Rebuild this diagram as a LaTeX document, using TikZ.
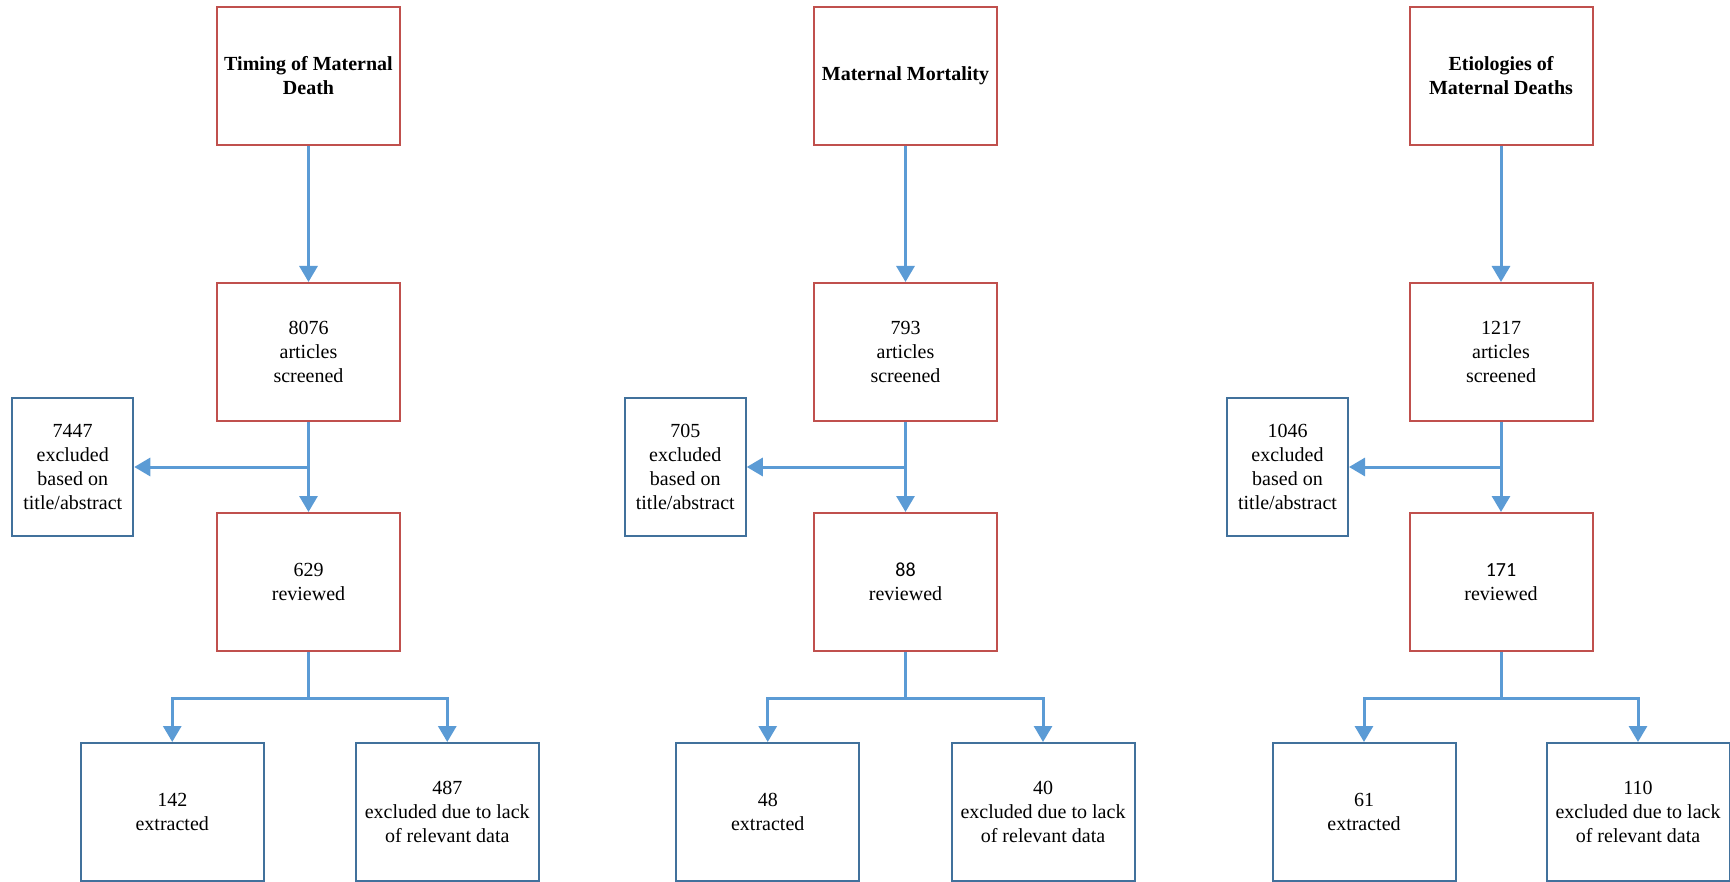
\documentclass[tikz,border=0pt]{standalone}
\usepackage{fontspec}
\setmainfont{Liberation Serif}
\newfontfamily\calibrifont{Carlito}
\usetikzlibrary{arrows.meta}
\definecolor{boxred}{HTML}{C0504D}
\definecolor{boxblue}{HTML}{41719C}
\definecolor{arrowblue}{HTML}{5B9BD5}
\tikzset{
  basebox/.style={draw, line width=2pt, minimum width=183pt, minimum height=138pt, inner sep=0pt, align=center, font=\fontsize{20}{24}\selectfont, text=black},
  redbox/.style={basebox, draw=boxred},
  bluebox/.style={basebox, draw=boxblue},
  exclbox/.style={basebox, draw=boxblue, minimum width=121pt},
  arr/.style={draw=arrowblue, line width=3pt, -{Triangle[width=18pt,length=16pt]}},
  con/.style={draw=arrowblue, line width=3pt},
}
\begin{document}
\begin{tikzpicture}[x=1pt,y=-1pt]
\useasboundingbox (0,0) rectangle (1730,882);
% Column 1
\node[redbox] (t1) at (308.5,76) {\bfseries Timing of Maternal\\\bfseries Death};
\node[redbox] (s1) at (308.5,352) {8076\\articles\\screened};
\node[exclbox] (e1) at (72.75,467) {7447\\excluded\\based on\\title/abstract};
\node[redbox] (r1) at (308.5,582) {629\\reviewed};
\node[bluebox] (x1) at (172.25,812) {142\\extracted};
\node[bluebox] (d1) at (447.25,812) {487\\excluded due to lack\\of relevant data};
% Column 2
\node[redbox] (t2) at (905.5,76) {\bfseries Maternal Mortality};
\node[redbox] (s2) at (905.5,352) {793\\articles\\screened};
\node[exclbox] (e2) at (685.25,467) {705\\excluded\\based on\\title/abstract};
\node[redbox] (r2) at (905.5,582) {{\calibrifont 88}\\reviewed};
\node[bluebox] (x2) at (767.75,812) {48\\extracted};
\node[bluebox] (d2) at (1043,812) {40\\excluded due to lack\\of relevant data};
% Column 3
\node[redbox] (t3) at (1501,76) {\bfseries Etiologies of\\\bfseries Maternal Deaths};
\node[redbox] (s3) at (1501,352) {1217\\articles\\screened};
\node[exclbox] (e3) at (1287.5,467) {1046\\excluded\\based on\\title/abstract};
\node[redbox] (r3) at (1501,582) {{\calibrifont 171}\\reviewed};
\node[bluebox] (x3) at (1364,812) {61\\extracted};
\node[bluebox] (d3) at (1638,812) {110\\excluded due to lack\\of relevant data};
% Connectors
\foreach \i in {1,2,3}{
  \draw[arr] (t\i.south) -- (s\i.north);
  \draw[arr] (s\i.south) -- (r\i.north);
  \draw[arr] (e\i.east -| s\i.south) -- (e\i.east);
  \coordinate (b\i) at ([yshift=-46pt]r\i.south);
  \draw[con] (r\i.south) -- (b\i);
  \draw[arr] (b\i) -| (x\i.north);
  \draw[arr] (b\i) -| (d\i.north);
}
\end{tikzpicture}
\end{document}
